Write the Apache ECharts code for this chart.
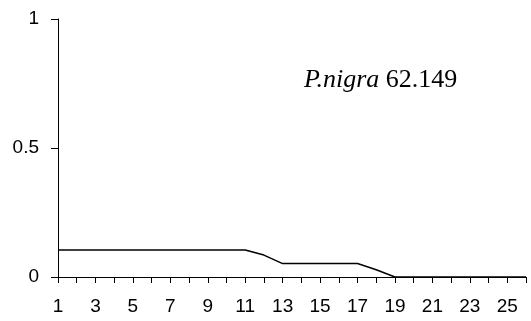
<!DOCTYPE html>
<html>
<head>
<meta charset="utf-8">
<script src="https://cdn.jsdelivr.net/npm/echarts@6/dist/echarts.min.js"></script>
<style>html,body{margin:0;padding:0;background:#fff}#c{width:531px;height:321px}</style>
</head>
<body>
<div id="c"></div>
<script>
const categories = ['1','2','3','4','5','6','7','8','9','10','11','12','13','14','15','16','17','18','19','20','21','22','23','24','25','26'];
const values = [0.105,0.105,0.105,0.105,0.105,0.105,0.105,0.105,0.105,0.105,0.105,0.085,0.052,0.052,0.052,0.052,0.052,0.028,0,0,0,0,0,0,0,0];
const yTicks = [0, 0.5, 1];
const speciesName = 'P.nigra';
const speciesValue = '62.149';

const chart = echarts.init(document.getElementById('c'), null, {renderer:'canvas'});
chart.setOption({
  animation: false,
  backgroundColor: '#fff',
  grid: {left: 58, right: 5, top: 19, bottom: 44, containLabel: false},
  title: {
    text: '{i|' + speciesName + '} {n|' + speciesValue + '}',
    left: 299, top: 62,
    textStyle: {
      fontWeight: 'normal',
      fontFamily: 'Liberation Serif',
      fontSize: 26,
      rich: {
        i: {fontFamily: 'Liberation Serif', fontStyle: 'italic', fontWeight: 'normal', fontSize: 26, color: '#000'},
        n: {fontFamily: 'Liberation Serif', fontWeight: 'normal', fontSize: 26, color: '#000'}
      }
    }
  },
  xAxis: {
    type: 'category',
    data: categories,
    boundaryGap: false,
    axisLine: {lineStyle: {color: '#000', width: 1}},
    axisTick: {show: true, interval: 0, length: 6, lineStyle: {color: '#000'}},
    axisLabel: {interval: 1, color: '#000', fontFamily: 'Liberation Sans', fontSize: 19, margin: 20}
  },
  yAxis: {
    type: 'value',
    min: yTicks[0], max: yTicks[yTicks.length-1], interval: 0.5,
    splitLine: {show: false},
    axisLine: {show: true, lineStyle: {color: '#000', width: 1}},
    axisTick: {show: true, length: 7, lineStyle: {color: '#000'}},
    axisLabel: {color: '#000', fontFamily: 'Liberation Sans', fontSize: 19, margin: 19}
  },
  series: [{
    type: 'line',
    data: values,
    symbol: 'none',
    lineStyle: {color: '#000', width: 1.5}
  }]
});
</script>
</body>
</html>
